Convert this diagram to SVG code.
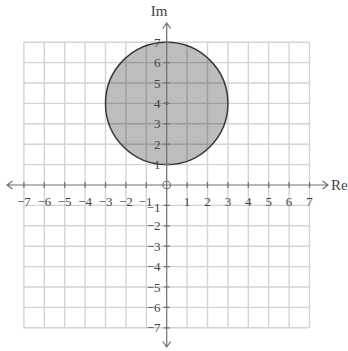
<svg xmlns="http://www.w3.org/2000/svg" width="348" height="351" viewBox="0 0 348 351">
<style>
.grid{stroke:#d4d4d4;stroke-width:1.4;fill:none}
.axis{stroke:#707070;stroke-width:1.2;fill:none}
.tick{stroke:#707070;stroke-width:1.2}
.lbl{font-family:"Liberation Serif","Times New Roman",serif;font-size:13px;fill:#444}
.xl{text-anchor:middle}
.yl{text-anchor:end;dominant-baseline:central}
.nm{font-size:15px}
</style>
<rect width="348" height="351" fill="#fff"/>
<g id="grid" class="grid">
<path d="M23.9 42.2V327.8M44.3 42.2V327.8M64.7 42.2V327.8M85.1 42.2V327.8M105.5 42.2V327.8M125.9 42.2V327.8M146.3 42.2V327.8M187.1 42.2V327.8M207.5 42.2V327.8M227.9 42.2V327.8M248.3 42.2V327.8M268.7 42.2V327.8M289.1 42.2V327.8M309.5 42.2V327.8"/>
<path d="M23.9 42.2H309.5M23.9 62.6H309.5M23.9 83H309.5M23.9 103.4H309.5M23.9 123.8H309.5M23.9 144.2H309.5M23.9 164.6H309.5M23.9 205.4H309.5M23.9 225.8H309.5M23.9 246.2H309.5M23.9 266.6H309.5M23.9 287H309.5M23.9 307.4H309.5M23.9 327.8H309.5"/>
</g>
<g id="disk">
<circle cx="166.7" cy="103.4" r="61.2" fill="#000" fill-opacity="0.26" stroke="#3a3a3a" stroke-width="1.5"/>
<circle cx="166.7" cy="103.4" r="1.3" fill="#222"/>
</g>
<g id="connectors">
<path class="axis" d="M7 185H328M12.5 181L7 185L12.5 189M322.5 181L328 185L322.5 189"/>
<path class="axis" d="M166.7 23V347M162.7 28.5L166.7 23L170.7 28.5M162.7 341.5L166.7 347L170.7 341.5"/>
<path class="tick" d="M23.9 182V188M44.3 182V188M64.7 182V188M85.1 182V188M105.5 182V188M125.9 182V188M146.3 182V188M187.1 182V188M207.5 182V188M227.9 182V188M248.3 182V188M268.7 182V188M289.1 182V188M309.5 182V188"/>
<path class="tick" d="M163.7 42.2H169.7M163.7 62.6H169.7M163.7 83H169.7M163.7 103.4H169.7M163.7 123.8H169.7M163.7 144.2H169.7M163.7 164.6H169.7M163.7 205.4H169.7M163.7 225.8H169.7M163.7 246.2H169.7M163.7 266.6H169.7M163.7 287H169.7M163.7 307.4H169.7M163.7 327.8H169.7"/>
<circle cx="166.7" cy="185" r="3.8" fill="none" stroke="#707070" stroke-width="1.1"/>
</g>
<g id="xlabels" class="lbl xl">
<text x="23.9" y="206">−7</text><text x="44.3" y="206">−6</text><text x="64.7" y="206">−5</text><text x="85.1" y="206">−4</text><text x="105.5" y="206">−3</text><text x="125.9" y="206">−2</text><text x="145.5" y="206">−1</text>
<text x="187.1" y="206">1</text><text x="207.5" y="206">2</text><text x="227.9" y="206">3</text><text x="248.3" y="206">4</text><text x="268.7" y="206">5</text><text x="289.1" y="206">6</text><text x="309.5" y="206">7</text>
</g>
<g id="ylabels" class="lbl yl">
<text x="160.5" y="42.2">7</text><text x="160.5" y="62.6">6</text><text x="160.5" y="83">5</text><text x="160.5" y="103.4">4</text><text x="160.5" y="123.8">3</text><text x="160.5" y="144.2">2</text><text x="160.5" y="164.6">1</text>
<text x="160.5" y="207">−1</text><text x="160.5" y="225.8">−2</text><text x="160.5" y="246.2">−3</text><text x="160.5" y="266.6">−4</text><text x="160.5" y="287">−5</text><text x="160.5" y="307.4">−6</text><text x="160.5" y="327.8">−7</text>
</g>
<g id="axisnames" class="lbl nm">
<text x="159" y="16" text-anchor="middle">Im</text>
<text x="331" y="189.5">Re</text>
</g>
</svg>
